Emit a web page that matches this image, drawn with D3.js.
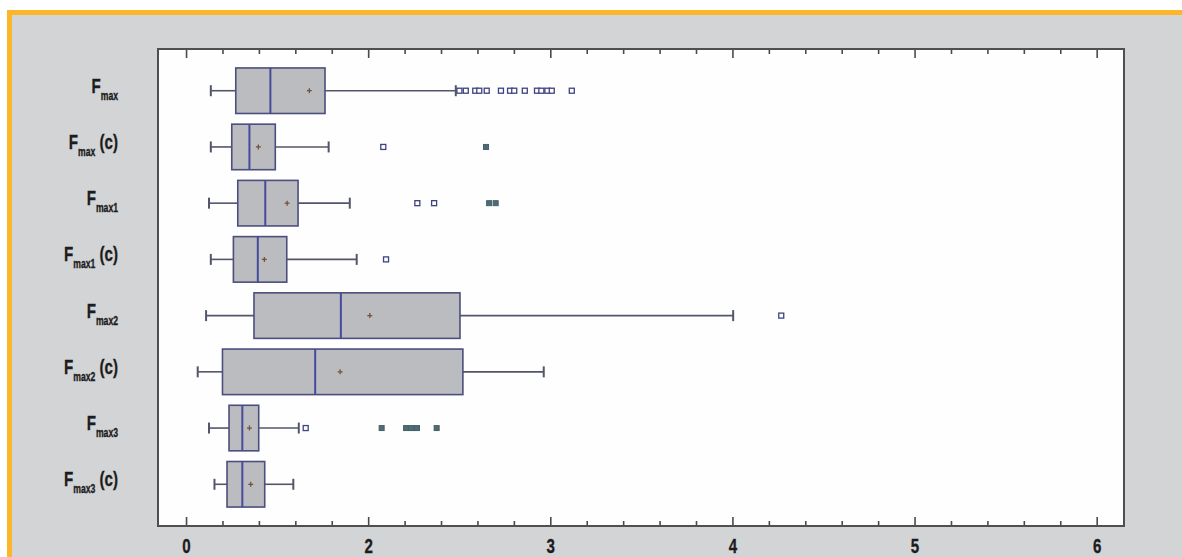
<!DOCTYPE html>
<html>
<head>
<meta charset="utf-8">
<script src="https://cdn.jsdelivr.net/npm/d3@7"></script>
<style>
  html, body { margin: 0; padding: 0; background: #ffffff; }
  svg { display: block; }
  text { font-family: "Liberation Sans", Arial, sans-serif; font-weight: bold; fill: #1c1c1c; stroke: #1c1c1c; stroke-width: 0.35; }
</style>
</head>
<body>
<svg id="chart" width="1182" height="557"></svg>
<script>
// Box-plot summaries for the force measures (positions on the axis scale)
const categories = ["F_max", "F_max (c)", "F_max1", "F_max1 (c)", "F_max2", "F_max2 (c)", "F_max3", "F_max3 (c)"];
const whiskerLow  = [0.136, 0.136, 0.126, 0.136, 0.110, 0.064, 0.126, 0.156];
const q1          = [0.273, 0.251, 0.284, 0.260, 0.373, 0.200, 0.236, 0.225];
const median      = [0.463, 0.348, 0.435, 0.394, 0.850, 0.709, 0.309, 0.309];
const mean        = [0.677, 0.397, 0.555, 0.430, 1.009, 0.846, 0.348, 0.355];
const q3          = [0.763, 0.490, 0.615, 0.553, 1.504, 1.520, 0.399, 0.432];
const whiskerHigh = [1.481, 0.783, 0.899, 0.937, 3.004, 1.964, 0.619, 0.589];
// mild outliers (open squares) and extreme outliers (filled squares)
const outliers = [
  [1.501, 1.536, 1.588, 1.610, 1.651, 1.729, 1.779, 1.802, 1.860, 1.927, 1.951, 1.984, 2.008, 2.118],
  [1.083],
  [1.270, 1.362],
  [1.098],
  [3.268],
  [],
  [0.657],
  []
];
const farOutliers = [
  [],
  [1.647],
  [1.664, 1.700],
  [],
  [],
  [],
  [1.074, 1.208, 1.239, 1.268, 1.376],
  []
];
const tickLabels = ["0", "2", "3", "4", "5", "6"];

const svg = d3.select("#chart");
const W = 1182, H = 557;

// page background with the orange rule
svg.append("rect").attr("x", 0).attr("y", 0).attr("width", W).attr("height", H).attr("fill", "#ffffff");
svg.append("rect").attr("x", 7).attr("y", 10).attr("width", W - 7).attr("height", H - 10).attr("fill", "#fbb62a");
svg.append("rect").attr("x", 12).attr("y", 15).attr("width", W - 12).attr("height", H - 15).attr("fill", "#d3d4d6");

const plot = { left: 158, top: 49, right: 1124, bottom: 526 };

const x = d3.scaleLinear().domain([-0.154, 5.15]).range([plot.left, plot.right]);
const y = d3.scalePoint().domain(categories).range([plot.top, plot.bottom]).padding(0.742);
const boxH = y.step() * 0.81;

// plot area
svg.append("rect")
  .attr("x", plot.left).attr("y", plot.top)
  .attr("width", plot.right - plot.left).attr("height", plot.bottom - plot.top)
  .attr("fill", "#fefefe");

// axes: major ticks with labels, minor ticks every fifth
const majorVals = d3.range(tickLabels.length);
const minorVals = d3.range(0, tickLabels.length - 1).flatMap(i => [0.2, 0.4, 0.6, 0.8].map(f => i + f));

function styleAxis(g) {
  g.select(".domain").remove();
  g.selectAll(".tick line").attr("stroke", "#4a4a4a").attr("stroke-width", 1.6);
}

const bottomMajor = svg.append("g")
  .attr("transform", `translate(0,${plot.bottom})`)
  .call(d3.axisBottom(x).tickValues(majorVals).tickSize(-9).tickPadding(12)
    .tickFormat(i => tickLabels[i]))
  .call(styleAxis);
bottomMajor.selectAll(".tick text")
  .attr("font-size", 21)
  .attr("font-family", "'Liberation Sans', Arial, sans-serif")
  .attr("font-weight", "bold")
  .attr("fill", "#1c1c1c")
  .attr("transform", "scale(0.72,1)");

svg.append("g")
  .attr("transform", `translate(0,${plot.bottom})`)
  .call(d3.axisBottom(x).tickValues(minorVals).tickSize(-5).tickFormat(""))
  .call(styleAxis);

svg.append("g")
  .attr("transform", `translate(0,${plot.top})`)
  .call(d3.axisTop(x).tickValues(majorVals).tickSize(-9).tickFormat(""))
  .call(styleAxis);

svg.append("g")
  .attr("transform", `translate(0,${plot.top})`)
  .call(d3.axisTop(x).tickValues(minorVals).tickSize(-5).tickFormat(""))
  .call(styleAxis);

// frame
svg.append("rect")
  .attr("x", plot.left).attr("y", plot.top)
  .attr("width", plot.right - plot.left).attr("height", plot.bottom - plot.top)
  .attr("fill", "none").attr("stroke", "#4f4f4f").attr("stroke-width", 2);

// boxes
const rows = categories.map((c, i) => ({
  cat: c, lo: whiskerLow[i], q1: q1[i], med: median[i], mean: mean[i], q3: q3[i], hi: whiskerHigh[i],
  out: outliers[i], far: farOutliers[i]
}));

const whiskerColor = "#53566a";
const rowG = svg.append("g").selectAll("g").data(rows).join("g")
  .attr("transform", d => `translate(0,${y(d.cat)})`);

// whiskers
rowG.append("line")
  .attr("x1", d => x(d.lo)).attr("x2", d => x(d.q1))
  .attr("stroke", whiskerColor).attr("stroke-width", 1.6);
rowG.append("line")
  .attr("x1", d => x(d.q3)).attr("x2", d => x(d.hi))
  .attr("stroke", whiskerColor).attr("stroke-width", 1.6);
rowG.append("line")
  .attr("x1", d => x(d.lo)).attr("x2", d => x(d.lo)).attr("y1", -5.5).attr("y2", 5.5)
  .attr("stroke", whiskerColor).attr("stroke-width", 2);
rowG.append("line")
  .attr("x1", d => x(d.hi)).attr("x2", d => x(d.hi)).attr("y1", -5.5).attr("y2", 5.5)
  .attr("stroke", whiskerColor).attr("stroke-width", 2);

// interquartile box
rowG.append("rect")
  .attr("x", d => x(d.q1)).attr("y", -boxH / 2)
  .attr("width", d => x(d.q3) - x(d.q1)).attr("height", boxH)
  .attr("fill", "#bbbcbf").attr("stroke", "#4b4e7e").attr("stroke-width", 1.6);

// median
rowG.append("line")
  .attr("x1", d => x(d.med)).attr("x2", d => x(d.med))
  .attr("y1", -boxH / 2).attr("y2", boxH / 2)
  .attr("stroke", "#454b9c").attr("stroke-width", 2);

// mean marker
rowG.append("path")
  .attr("d", d => `M${x(d.mean) - 2.5},0H${x(d.mean) + 2.5}M${x(d.mean)},-2.5V2.5`)
  .attr("stroke", "#74503f").attr("stroke-width", 1.3);

// outliers
const sq = 5;
rowG.selectAll("rect.out").data(d => d.out).join("rect")
  .attr("class", "out")
  .attr("x", v => x(v) - sq / 2).attr("y", -sq / 2)
  .attr("width", sq).attr("height", sq)
  .attr("fill", "#ffffff").attr("stroke", "#3e4282").attr("stroke-width", 1.3);
rowG.selectAll("rect.far").data(d => d.far).join("rect")
  .attr("class", "far")
  .attr("x", v => x(v) - sq / 2).attr("y", -sq / 2)
  .attr("width", sq).attr("height", sq)
  .attr("fill", "#4f6b73").attr("stroke", "#46606a").attr("stroke-width", 1);

// category labels: F with subscript, optional "(c)" suffix
const labelG = svg.append("g").selectAll("g").data(categories).join("g")
  .attr("transform", c => `translate(118,${y(c) + 2}) scale(0.72,1)`);
labelG.each(function (c) {
  const m = c.match(/^F_(\S+)(?:\s+(.*))?$/);
  const t = d3.select(this).append("text").attr("text-anchor", "end").attr("x", 0).attr("y", 0);
  t.append("tspan").attr("font-size", 21).text("F");
  t.append("tspan").attr("font-size", 12).attr("dy", 7).text(m[1]);
  if (m[2]) {
    t.append("tspan").attr("font-size", 21).attr("dy", -7).text(" " + m[2]);
  }
});
</script>
</body>
</html>
